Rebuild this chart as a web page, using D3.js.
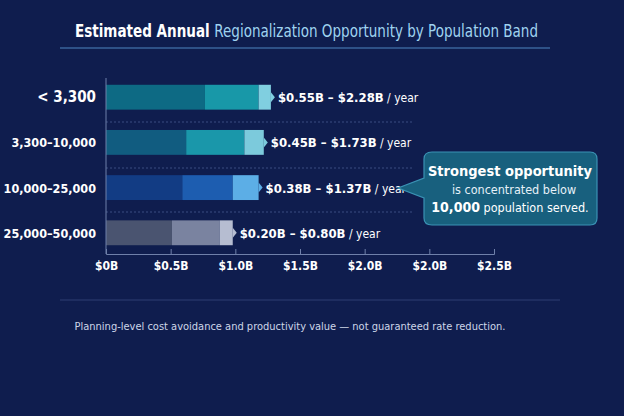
<!DOCTYPE html>
<html><head><meta charset="utf-8">
<script src="https://cdn.jsdelivr.net/npm/d3@7"></script>
<style>
body{margin:0;background:#0f1d4e;font-family:"Open Sans",sans-serif;}
</style></head><body>
<svg id="chart" width="624" height="416"></svg>
<script>
var categories = ["< 3,300", "3,300\u201310,000", "10,000\u201325,000", "25,000\u201350,000"];
// cumulative segment ends for each bar (axis units)
var segLow = [0.765, 0.62, 0.59, 0.51];
var segMid = [1.18, 1.07, 0.98, 0.88];
var segHigh = [1.275, 1.22, 1.18, 0.98];
var rangeLabels = ["$0.55B \u2013 $2.28B", "$0.45B \u2013 $1.73B", "$0.38B \u2013 $1.37B", "$0.20B \u2013 $0.80B"];
var tickValues = [0, 0.5, 1.0, 1.5, 2.0, 2.5, 3.0];
var tickLabels = ["$0B", "$0.5B", "$1.0B", "$1.5B", "$2.0B", "$2.0B", "$2.5B"];
var palette = [["#0d6a84", "#1898a8", "#80cfe0"], ["#115c80", "#1a97aa", "#7ccadc"],
               ["#123c84", "#1d5db0", "#5caee6"], ["#4a5470", "#7a83a0", "#b6bdd1"]];

var svg = d3.select("#chart");
var x = d3.scaleLinear().domain([0, 3.0]).range([106, 494]);
var y = d3.scaleBand().domain(categories).range([78, 252]).paddingInner(0.45).paddingOuter(0.15);
var cf = "'DejaVu Sans Condensed','Open Sans',sans-serif";

// title
var title = svg.append("text").attr("x", 75).attr("y", 37)
    .attr("font-size", 17).attr("font-weight", "bold").attr("fill", "#fff")
    .attr("font-family", cf).attr("textLength", 463).attr("lengthAdjust", "spacingAndGlyphs");
title.append("tspan").text("Estimated Annual ");
title.append("tspan").attr("fill", "#9fd3f0").attr("font-weight", "normal").text("Regionalization Opportunity by Population Band");
svg.append("line").attr("x1", 60).attr("x2", 550).attr("y1", 48).attr("y2", 48).attr("stroke", "#4f86c0").attr("stroke-width", 1.2);

// separators
[122, 168, 212].forEach(function (yy) {
    svg.append("line").attr("x1", 106).attr("x2", 414).attr("y1", yy).attr("y2", yy)
        .attr("stroke", "#3b4d80").attr("stroke-dasharray", "2,2");
});

// bars
categories.forEach(function (c, i) {
    var ends = [0, segLow[i], segMid[i], segHigh[i]];
    for (var k = 0; k < 3; k++) {
        svg.append("rect").attr("x", x(ends[k])).attr("width", x(ends[k + 1]) - x(ends[k]))
            .attr("y", y(c)).attr("height", y.bandwidth()).attr("fill", palette[i][k]);
    }
    var tipX = x(segHigh[i]);
    var cy = y(c) + y.bandwidth() / 2;
    svg.append("path").attr("d", "M" + tipX + "," + (cy - 5) + "L" + (tipX + 4) + "," + cy + "L" + tipX + "," + (cy + 5) + "Z")
        .attr("fill", palette[i][2]);
    var t = svg.append("text").attr("x", tipX + 7).attr("y", cy + 5).attr("fill", "#fff")
        .attr("font-size", 13).attr("font-family", cf);
    t.append("tspan").attr("font-weight", "bold").text(rangeLabels[i]);
    t.append("tspan").attr("font-size", 12).text(" / year");
    svg.append("text").attr("x", 96).attr("y", cy + 5).attr("text-anchor", "end")
        .attr("fill", "#fff").attr("font-weight", "bold").attr("font-family", cf)
        .attr("font-size", i === 0 ? 15 : 12.5).text(c);
});

// axes
svg.append("line").attr("x1", 106).attr("x2", 106).attr("y1", 78).attr("y2", 254).attr("stroke", "#6f80aa");
var ax = svg.append("g").attr("transform", "translate(0,254)")
    .call(d3.axisBottom(x).tickValues(tickValues).tickSize(-5)
        .tickFormat(function (d, i) { return tickLabels[i]; }));
ax.select(".domain").attr("stroke", "#6f80aa");
ax.selectAll(".tick line").attr("stroke", "#6f80aa");
ax.selectAll(".tick text").attr("fill", "#fff").attr("font-size", 12).attr("font-weight", "bold")
    .attr("dy", "1.1em").attr("font-family", cf);

// callout
svg.append("path").attr("d", "M432,152 H590 Q597,152 597,159 V218 Q597,225 590,225 H432 Q424,225 424,218 V198 L398,188 L424,178 V159 Q424,152 432,152 Z")
    .attr("fill", "#18607e").attr("stroke", "#3a92b4").attr("stroke-width", 1.2);
svg.append("text").attr("x", 510).attr("y", 176).attr("text-anchor", "middle").attr("fill", "#fff")
    .attr("font-size", 14.5).attr("font-weight", "bold").attr("font-family", cf).text("Strongest opportunity");
svg.append("text").attr("x", 514).attr("y", 194).attr("text-anchor", "middle").attr("fill", "#e6f0f8")
    .attr("font-size", 12.5).attr("font-family", cf).text("is concentrated below");
var l3 = svg.append("text").attr("x", 510).attr("y", 212).attr("text-anchor", "middle").attr("fill", "#fff")
    .attr("font-size", 12.5).attr("font-family", cf);
l3.append("tspan").attr("font-weight", "bold").attr("font-size", 14).text("10,000");
l3.append("tspan").text(" population served.");

// footer
svg.append("line").attr("x1", 60).attr("x2", 560).attr("y1", 300).attr("y2", 300).attr("stroke", "#2e3f72");
svg.append("text").attr("x", 290).attr("y", 330).attr("text-anchor", "middle").attr("fill", "#cdd6e8")
    .attr("font-size", 11).attr("font-family", cf)
    .text("Planning-level cost avoidance and productivity value \u2014 not guaranteed rate reduction.");
</script>
</body></html>
